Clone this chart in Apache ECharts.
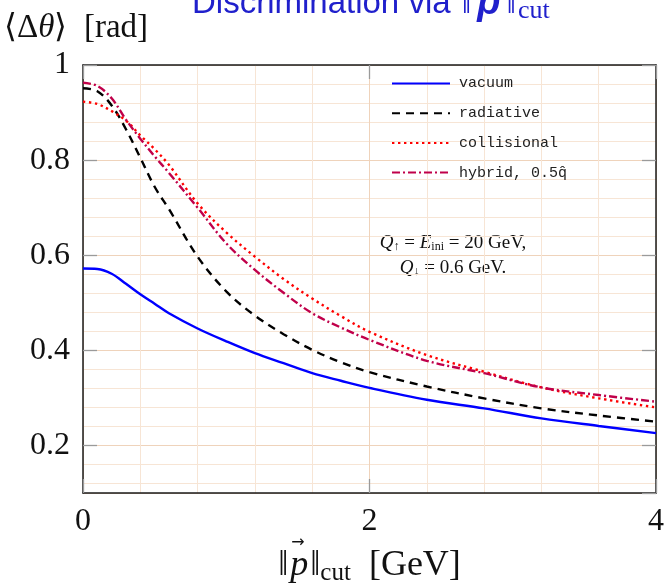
<!DOCTYPE html>
<html>
<head>
<meta charset="utf-8">
<script src="https://cdn.jsdelivr.net/npm/echarts@6/dist/echarts.min.js"></script>
<style>
  html, body { margin: 0; padding: 0; background: #fff; }
  #chart { width: 665px; height: 586px; }
</style>
</head>
<body>
<div id="chart"></div>
<script>
// momentum cut [GeV]
const pCut = [0, 0.1, 0.2, 0.3, 0.4, 0.5, 0.6, 0.8, 1.0, 1.2, 1.4, 1.6, 1.8, 2.0, 2.4, 2.8, 3.2, 3.6, 4.0];

// <delta theta> [rad]
const vacuum = [0.572, 0.571, 0.561, 0.540, 0.518, 0.498, 0.478, 0.446, 0.419, 0.394, 0.373, 0.352, 0.336, 0.321, 0.296, 0.278, 0.257, 0.241, 0.226];
const radiative = [0.951, 0.945, 0.915, 0.865, 0.805, 0.744, 0.697, 0.597, 0.524, 0.473, 0.434, 0.401, 0.375, 0.354, 0.324, 0.299, 0.278, 0.263, 0.250];
const collisional = [0.923, 0.918, 0.903, 0.883, 0.852, 0.823, 0.790, 0.709, 0.648, 0.597, 0.550, 0.509, 0.472, 0.439, 0.390, 0.355, 0.322, 0.299, 0.280];
const hybrid = [0.963, 0.956, 0.930, 0.885, 0.845, 0.808, 0.773, 0.700, 0.625, 0.569, 0.521, 0.478, 0.448, 0.422, 0.378, 0.352, 0.322, 0.306, 0.292];

const seriesNames = ['vacuum', 'radiative', 'collisional', 'hybrid, 0.5q\u0302'];

const serif = 'Liberation Serif';
const ink = '#111';
const titleBlue = '#2020cc';
const majorGrid = '#efd3bb';
const minorGrid = '#f7e5d5';

const pairs = (ys) => pCut.map((x, i) => [x, ys[i]]);

const frameAxis = {
  axisLine: { show: true, onZero: false, lineStyle: { color: '#1a1a1a', width: 1.5 } },
  axisTick: { show: true, inside: true, length: 14, lineStyle: { color: '#9a9a9a', width: 1.3 } },
};

const lineSeries = (name, ys, color, type) => ({
  name,
  type: 'line',
  data: pairs(ys),
  symbol: 'none',
  smooth: 0.35,
  lineStyle: { color, width: 2.4, type, cap: 'butt' },
  itemStyle: { color },
});

const chart = echarts.init(document.getElementById('chart'));

chart.setOption({
  animation: false,
  backgroundColor: '#fff',
  grid: { left: 83, right: 9, top: 65, bottom: 93, outerBoundsMode: 'none', containLabel: false },
  legend: {
    orient: 'vertical',
    left: 391,
    top: 76,
    padding: 0,
    itemWidth: 58,
    itemHeight: 12,
    itemGap: 14.7,
    itemStyle: { opacity: 0 },
    textStyle: { fontFamily: 'Liberation Mono', fontSize: 15, color: '#222', padding: [0, 0, 0, 4] },
    data: seriesNames,
  },
  xAxis: [
    {
      type: 'value',
      position: 'bottom',
      min: 0,
      max: 4,
      interval: 2,
      ...frameAxis,
      axisLabel: { fontFamily: serif, fontSize: 32, color: ink, margin: 13 },
      splitLine: { show: true, lineStyle: { color: majorGrid, width: 1 } },
      minorTick: { show: false, splitNumber: 5 },
      minorSplitLine: { show: true, lineStyle: { color: minorGrid, width: 1 } },
      name: '{n|\u2016}{p|p}{n|\u2016}{s|cut}{n|  [GeV]}',
      nameLocation: 'middle',
      nameGap: 53,
      nameTextStyle: {
        rich: {
          n: { fontFamily: serif, fontSize: 36, color: ink },
          p: { fontFamily: serif, fontStyle: 'italic', fontSize: 36, color: ink, padding: [0, 2, 0, 2] },
          s: { fontFamily: serif, fontSize: 25, color: ink, verticalAlign: 'bottom', padding: [15, 0, 0, 0] },
        },
      },
    },
    {
      type: 'value',
      position: 'top',
      min: 0,
      max: 4,
      interval: 2,
      ...frameAxis,
      axisLabel: { show: false },
      splitLine: { show: false },
    },
  ],
  yAxis: [
    {
      type: 'value',
      position: 'left',
      min: 0.1,
      max: 1,
      splitNumber: 5,
      ...frameAxis,
      axisLabel: {
        fontFamily: serif,
        fontSize: 32,
        color: ink,
        margin: 13,
        showMinLabel: false,
        formatter: (v) => String(Math.round(v * 10) / 10),
      },
      splitLine: { show: true, lineStyle: { color: majorGrid, width: 1 } },
      minorTick: { show: false, splitNumber: 5 },
      minorSplitLine: { show: true, lineStyle: { color: minorGrid, width: 1 } },
    },
    {
      type: 'value',
      position: 'right',
      min: 0.1,
      max: 1,
      splitNumber: 5,
      ...frameAxis,
      axisLabel: { show: false },
      splitLine: { show: false },
    },
  ],
  series: [
    lineSeries(seriesNames[0], vacuum, '#0000ff', 'solid'),
    lineSeries(seriesNames[1], radiative, '#000000', [8, 6]),
    lineSeries(seriesNames[2], collisional, '#ff0000', [2.4, 3.6]),
    lineSeries(seriesNames[3], hybrid, '#c0004a', [8, 3, 2, 3]),
  ],
  graphic: [
    {
      type: 'text',
      x: 192,
      y: 24,
      style: {
        text: '{t|Discrimination via }{b|\u2016}{p|p}{b|\u2016}{s|cut}',
        verticalAlign: 'bottom',
        rich: {
          t: { fontFamily: 'Liberation Sans', fontSize: 33, fill: titleBlue },
          b: { fontFamily: serif, fontSize: 34, fill: titleBlue, padding: [0, 2, 0, 2] },
          p: { fontFamily: 'Liberation Sans', fontStyle: 'italic', fontWeight: 'bold', fontSize: 38, fill: titleBlue, padding: [0, 4, 0, 4] },
          s: { fontFamily: serif, fontSize: 26, fill: titleBlue, verticalAlign: 'bottom', padding: [14, 0, 0, 0] },
        },
      },
    },
    {
      type: 'text',
      x: 4,
      y: 28,
      style: {
        text: '{a|\u27e8\u0394}{i|\u03b8}{a|\u27e9  [rad]}',
        verticalAlign: 'middle',
        rich: {
          a: { fontFamily: serif, fontSize: 33, fill: ink },
          i: { fontFamily: serif, fontStyle: 'italic', fontSize: 33, fill: ink },
        },
      },
    },
    {
      // vector arrow over p in the x-axis title
      type: 'text',
      x: 298,
      y: 543,
      style: {
        text: '\u2192',
        align: 'center',
        verticalAlign: 'middle',
        fontFamily: 'DejaVu Sans',
        fontSize: 16,
        fill: ink,
      },
    },
    {
      type: 'text',
      x: 453,
      y: 243,
      style: {
        text: '{i|Q}{s|\u2191}{a| = }{i|E}{s|ini}{a| = 20 GeV,}',
        align: 'center',
        verticalAlign: 'middle',
        rich: {
          a: { fontFamily: serif, fontSize: 19, fill: ink },
          i: { fontFamily: serif, fontStyle: 'italic', fontSize: 19, fill: ink },
          s: { fontFamily: serif, fontSize: 12, fill: ink, verticalAlign: 'bottom', padding: [8, 0, 0, 0] },
        },
      },
    },
    {
      type: 'text',
      x: 453,
      y: 268,
      style: {
        text: '{i|Q}{s|\u2193}{a| = 0.6 GeV.}',
        align: 'center',
        verticalAlign: 'middle',
        rich: {
          a: { fontFamily: serif, fontSize: 19, fill: ink },
          i: { fontFamily: serif, fontStyle: 'italic', fontSize: 19, fill: ink },
          s: { fontFamily: serif, fontSize: 12, fill: ink, verticalAlign: 'bottom', padding: [8, 0, 0, 0] },
        },
      },
    },
  ],
});
</script>
</body>
</html>
